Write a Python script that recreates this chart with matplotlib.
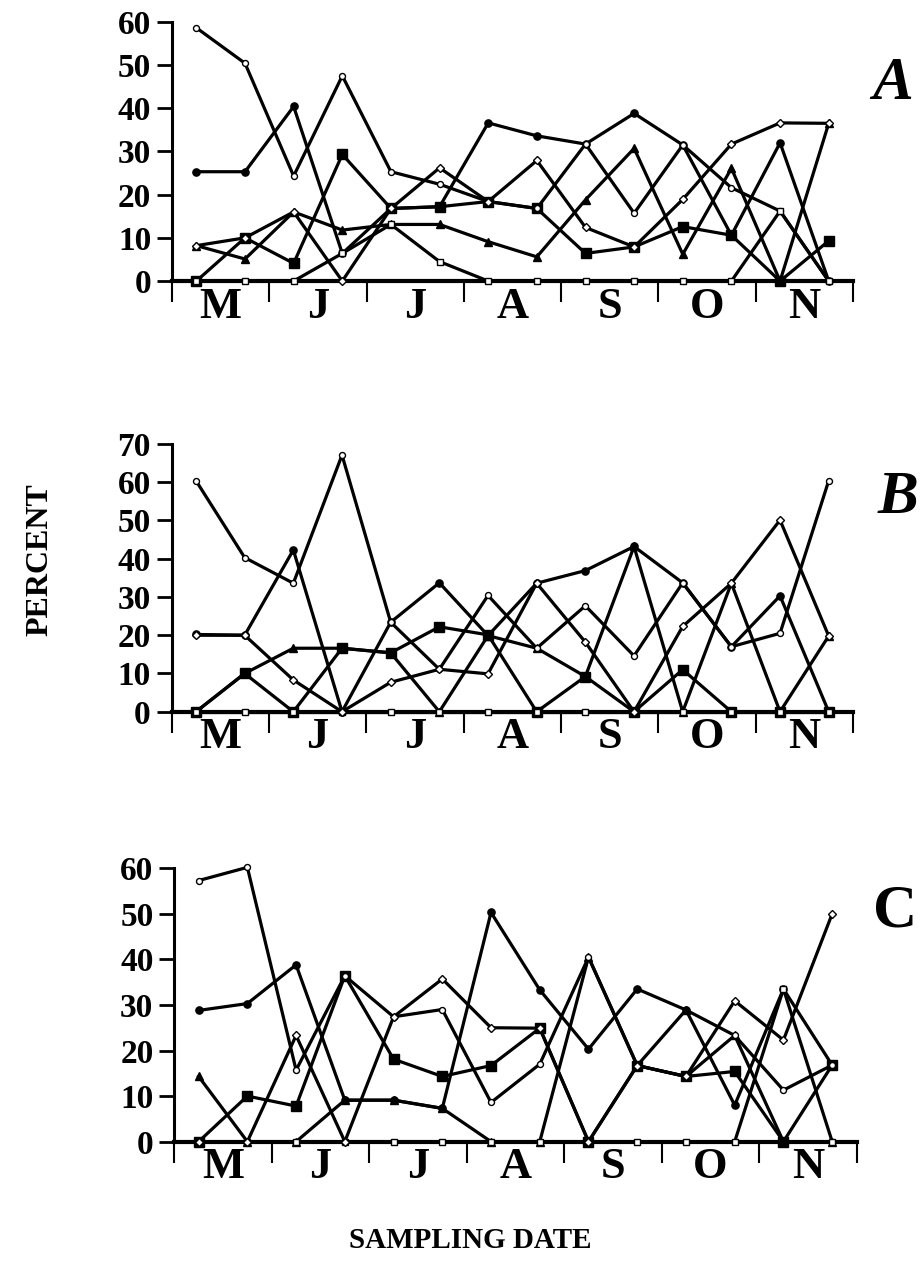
import numpy as np
import matplotlib.pyplot as plt

# ==========================================
# Data (14 sampling dates, May - November)
# ==========================================

months = ["M", "J", "J", "A", "S", "O", "N"]
x = np.arange(14) + 0.5

# Panel A
a_fcirc = [25.3, 25.3, 40.4, 6.4, 16.8, 17.2, 36.6, 33.6, 31.7, 38.8, 31.5, 10.6, 32.0, 0]
a_ocirc = [58.6, 50.4, 24.3, 47.5, 25.3, 22.4, 18.4, 16.8, 31.7, 15.7, 31.5, 21.6, 16.2, 0]
a_tri = [8.2, 5.1, 16.0, 11.8, 13.1, 13.1, 9.1, 5.6, 18.8, 30.7, 6.2, 26.1, 0, 36.5]
a_fsq = [0, 10.0, 4.1, 29.3, 16.8, 17.2, 18.4, 16.8, 6.4, 7.9, 12.6, 10.6, 0, 9.3]
a_dia = [8.2, 10.0, 16.0, 0, 16.8, 26.2, 18.4, 27.9, 12.4, 7.9, 18.9, 31.7, 36.6, 36.5]
a_osq = [0, 0, 0, 6.4, 13.1, 4.5, 0, 0, 0, 0, 0, 0, 16.2, 0]

# Panel B
b_fcirc = [20.2, 20.0, 42.3, 0, 23.4, 33.7, 19.9, 33.6, 36.9, 43.2, 33.7, 17.0, 30.3, 0]
b_ocirc = [60.4, 40.3, 33.6, 67.1, 23.4, 11.1, 30.4, 16.6, 27.7, 14.6, 33.7, 17.0, 20.5, 60.4]
b_tri = [0, 10.0, 16.6, 16.6, 15.4, 0, 19.9, 16.6, 9.2, 43.2, 0, 33.6, 0, 19.8]
b_fsq = [0, 10.0, 0, 16.6, 15.4, 22.2, 20.1, 0, 9.2, 0, 11.0, 0, 0, 0]
b_dia = [20.0, 20.0, 8.3, 0, 7.7, 11.1, 9.9, 33.6, 18.2, 0, 22.3, 33.6, 50.1, 19.8]
b_osq = [0, 0, 0, 0, 0, 0, 0, 0, 0, 0, 0, 0, 0, 0]

# Panel C
c_fcirc = [28.8, 30.3, 38.8, 9.1, 9.1, 7.3, 50.3, 33.3, 20.3, 33.5, 28.9, 8.0, 33.5, 16.8]
c_ocirc = [57.3, 60.2, 15.7, 36.4, 27.4, 29.0, 8.6, 17.0, 40.5, 16.7, 14.3, 23.3, 11.3, 16.8]
c_tri = [14.3, 0, 0, 9.1, 9.1, 7.3, 0, 0, 40.5, 16.7, 28.9, 23.3, 0, 0]
c_fsq = [0, 10.0, 7.8, 36.4, 18.1, 14.3, 16.7, 24.9, 0, 16.7, 14.3, 15.4, 0, 16.8]
c_dia = [0, 0, 23.3, 0, 27.4, 35.7, 25.0, 24.9, 0, 16.7, 14.3, 30.9, 22.3, 50.0]
c_osq = [0, 0, 0, 0, 0, 0, 0, 0, 0, 0, 0, 0, 33.5, 0]

panels = [
    ("A", "italic", [a_fsq, a_fcirc, a_tri, a_ocirc, a_osq, a_dia]),
    ("B", "italic", [b_fsq, b_fcirc, b_tri, b_ocirc, b_osq, b_dia]),
    ("C", "normal", [c_fsq, c_fcirc, c_tri, c_ocirc, c_osq, c_dia]),
]
ytop = [60, 70, 60]

# marker styles, same order as series lists above
styles = [
    dict(marker="s", ms=7.0, mfc="black"),
    dict(marker="o", ms=5.2, mfc="black"),
    dict(marker="^", ms=5.5, mfc="black"),
    dict(marker="o", ms=4.3, mfc="white"),
    dict(marker="s", ms=4.3, mfc="white"),
    dict(marker="D", ms=3.8, mfc="white"),
]

plt.rcParams["font.family"] = ["Liberation Serif", "DejaVu Serif"]
plt.rcParams["font.weight"] = "bold"

fig = plt.figure(figsize=(9.22, 12.81), dpi=100)

boxes = [
    [0.1866, 0.7806, 0.7386, 0.2024],
    [0.1862, 0.4444, 0.7390, 0.2090],
    [0.1890, 0.1088, 0.7400, 0.2134],
]
letter_pos = [(0.9685, 0.9344), (0.974, 0.6112), (0.9707, 0.2888)]

for i, (name, fs, series) in enumerate(panels):
    ax = fig.add_axes(boxes[i])
    for vals, st in zip(series, styles):
        ax.plot(x, vals, color="black", lw=2.3, mec="black", mew=1.0,
                clip_on=False, zorder=3, **st)

    ax.set_xlim(0, 14)
    ax.set_ylim(0, ytop[i])
    ax.set_yticks(range(0, ytop[i] + 1, 10))
    ax.tick_params(axis="y", direction="out", length=11, width=2.0,
                   labelsize=24, pad=4)

    ax.set_xticks(range(0, 15, 2))
    ax.set_xticklabels([])
    ax.set_xticks(np.arange(1, 14, 2), minor=True)
    ax.set_xticklabels(months, minor=True)
    ax.tick_params(axis="x", which="major", direction="out", length=15, width=1.5)
    ax.tick_params(axis="x", which="minor", length=0, labelsize=32, pad=4)

    for lab in ax.get_yticklabels() + ax.get_xticklabels(minor=True):
        lab.set_fontweight("bold")

    ax.spines["top"].set_visible(False)
    ax.spines["right"].set_visible(False)
    ax.spines["left"].set_linewidth(2.2)
    ax.spines["bottom"].set_linewidth(3.0)
    ax.patch.set_alpha(0)

    fig.text(letter_pos[i][0], letter_pos[i][1], name, fontsize=44,
             fontweight="bold", fontstyle=fs, ha="center", va="center")

fig.text(0.043, 0.563, "PERCENT", rotation=90, fontsize=23,
         fontweight="bold", ha="center", va="center")
fig.text(0.51, 0.032, "SAMPLING DATE", fontsize=21,
         fontweight="bold", ha="center", va="center")

fig.savefig("out.png", dpi=100)
